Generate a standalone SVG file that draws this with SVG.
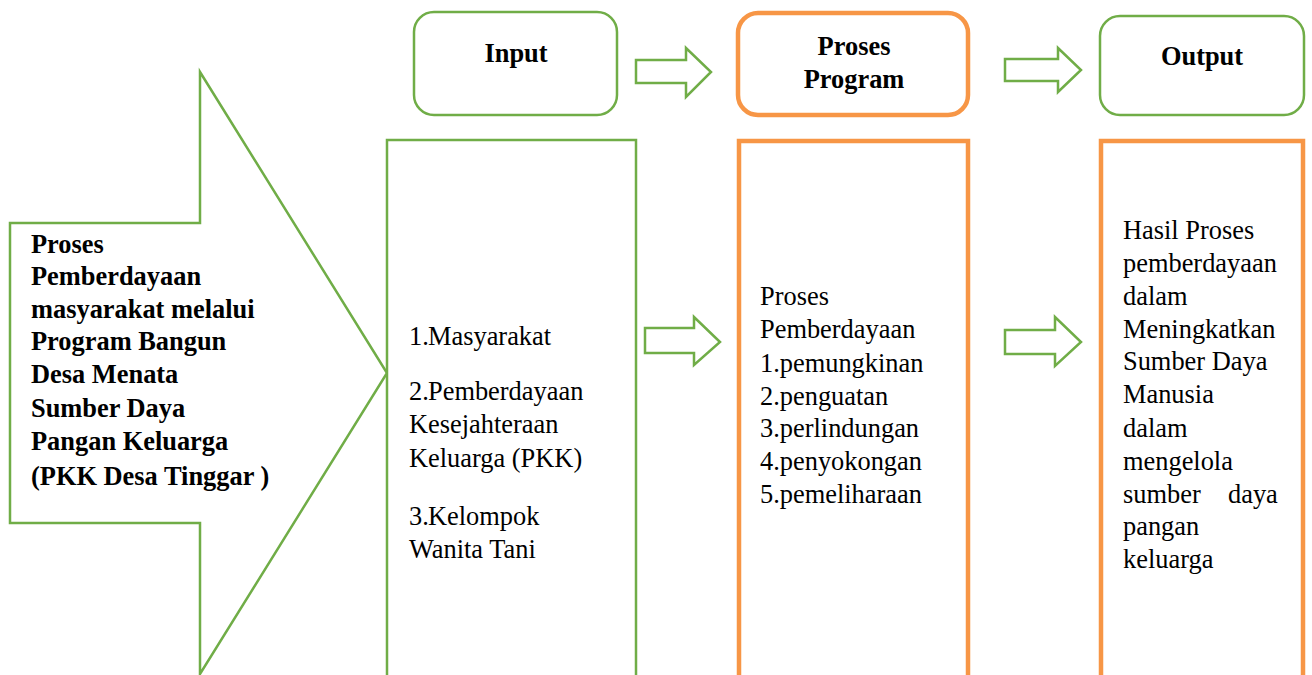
<svg xmlns="http://www.w3.org/2000/svg" width="1312" height="675" viewBox="0 0 1312 675">
<style>
.g{fill:#fff;stroke:#70AD47;stroke-width:2.5}
.o{fill:#fff;stroke:#F79646;stroke-width:4.5}
.ar{fill:#fff;stroke:#70AD47;stroke-width:2.5;stroke-linejoin:miter}
.t{font-family:"Liberation Serif","Times New Roman",serif;font-size:26.4px;fill:#000}
.b{font-weight:bold}
.c{text-anchor:middle}
</style>
<rect width="1312" height="675" fill="#fff"/>
<g id="source">
<polygon class="ar" points="10,223 200,223 200,72 387,373 200,674 200,523 10,523"/>
<text class="t b" x="31"><tspan x="31" y="253">Proses</tspan><tspan x="31" y="285">Pemberdayaan</tspan><tspan x="31" y="318">masyarakat melalui</tspan><tspan x="31" y="350">Program Bangun</tspan><tspan x="31" y="383">Desa Menata</tspan><tspan x="31" y="417">Sumber Daya</tspan><tspan x="31" y="450">Pangan Keluarga</tspan><tspan x="31" y="485">(PKK Desa Tinggar )</tspan></text>
</g>
<g id="input-head">
<rect class="g" x="414" y="12" width="203" height="103" rx="20"/>
<text class="t b c" x="516" y="62">Input</text>
</g>
<g id="process-head">
<rect class="o" x="738" y="13" width="230" height="102" rx="20"/>
<text class="t b c" x="854" y="55">Proses</text>
<text class="t b c" x="854" y="88">Program</text>
</g>
<g id="output-head">
<rect class="g" x="1100" y="16" width="204" height="99" rx="20"/>
<text class="t b c" x="1202" y="65">Output</text>
</g>
<g id="input-body">
<rect class="g" x="387" y="140" width="249" height="600"/>
<text class="t"><tspan x="409" y="345">1.</tspan><tspan x="428" y="345">Masyarakat</tspan><tspan x="409" y="400">2.</tspan><tspan x="428" y="400">Pemberdayaan</tspan><tspan x="409" y="433">Kesejahteraan</tspan><tspan x="409" y="467">Keluarga (PKK)</tspan><tspan x="409" y="525">3.</tspan><tspan x="428" y="525">Kelompok</tspan><tspan x="409" y="558">Wanita Tani</tspan></text>
</g>
<g id="process-body">
<rect class="o" x="739" y="141" width="229" height="600"/>
<text class="t"><tspan x="760" y="305">Proses</tspan><tspan x="760" y="338">Pemberdayaan</tspan><tspan x="760" y="372">1.pemungkinan</tspan><tspan x="760" y="405">2.penguatan</tspan><tspan x="760" y="437">3.perlindungan</tspan><tspan x="760" y="470">4.penyokongan</tspan><tspan x="760" y="503">5.pemeliharaan</tspan></text>
</g>
<g id="output-body">
<rect class="o" x="1101" y="141" width="202" height="600"/>
<text class="t"><tspan x="1123" y="239">Hasil Proses</tspan><tspan x="1123" y="272">pemberdayaan</tspan><tspan x="1123" y="305">dalam</tspan><tspan x="1123" y="338">Meningkatkan</tspan><tspan x="1123" y="370">Sumber Daya</tspan><tspan x="1123" y="403">Manusia</tspan><tspan x="1123" y="437">dalam</tspan><tspan x="1123" y="470">mengelola</tspan><tspan x="1123" y="503">sumber</tspan><tspan x="1228" y="503">daya</tspan><tspan x="1123" y="535">pangan</tspan><tspan x="1123" y="568">keluarga</tspan></text>
</g>
<g id="connectors">
<polygon class="ar" points="636,60 686,60 686,48 711,72 686,97 686,83 636,83"/>
<polygon class="ar" points="1005,59 1058,59 1058,48 1081,70 1058,92 1058,81 1005,81"/>
<polygon class="ar" points="645,328 694,328 694,317 720,342 694,365 694,353 645,353"/>
<polygon class="ar" points="1005,330 1055,330 1055,317 1081,342 1055,366 1055,354 1005,354"/>
</g>
</svg>
